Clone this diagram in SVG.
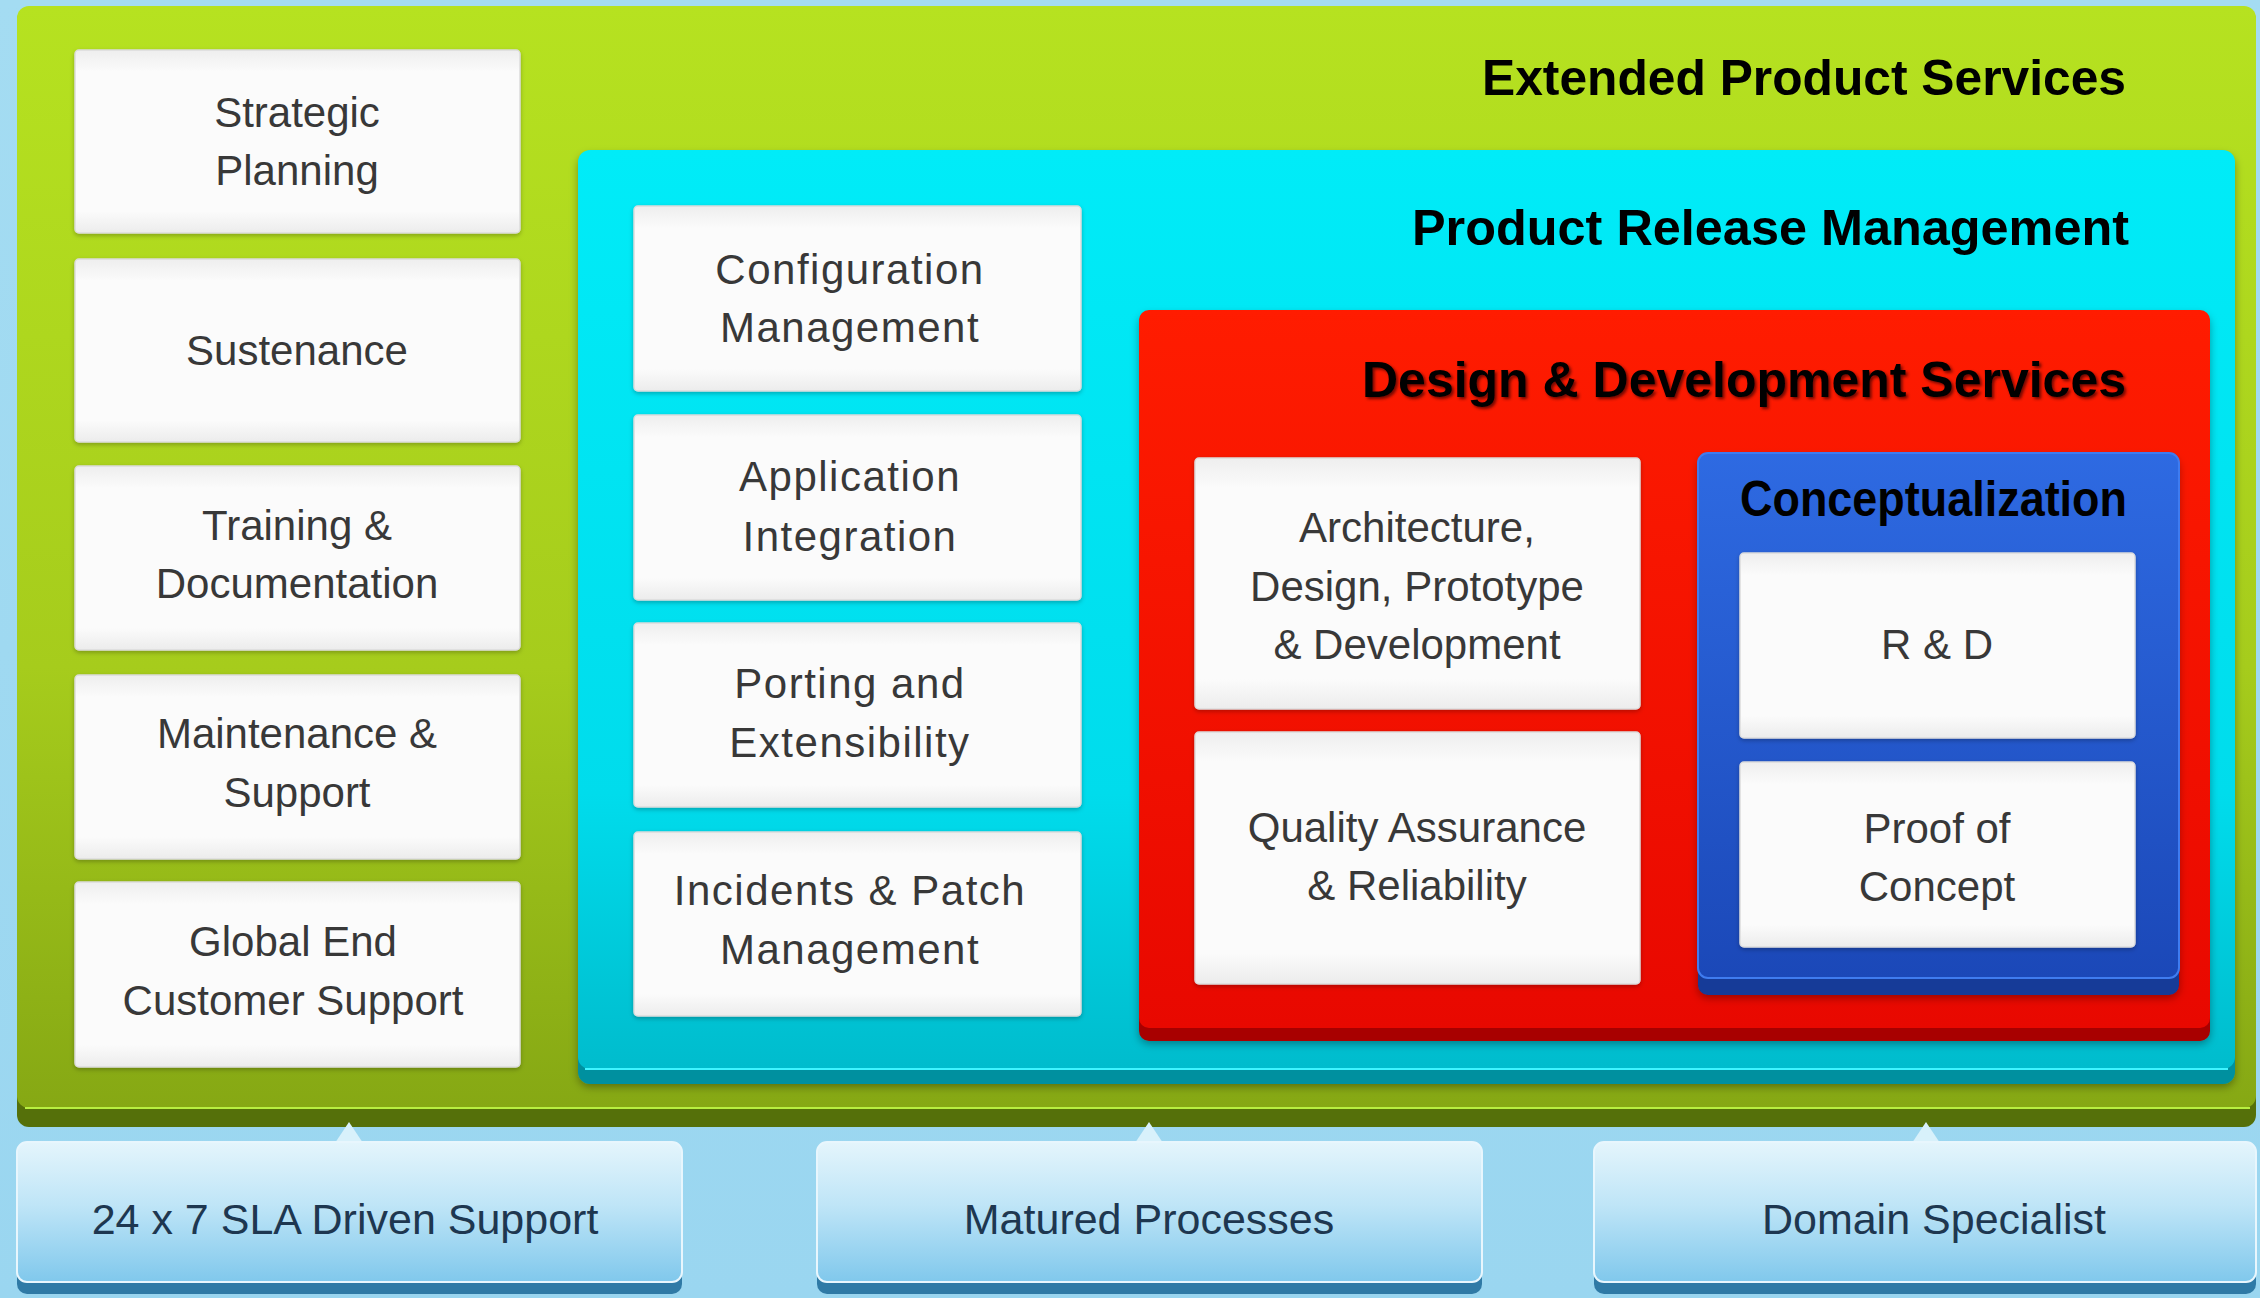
<svg xmlns="http://www.w3.org/2000/svg" width="2260" height="1298" viewBox="0 0 2260 1298">
<defs>
<linearGradient id="gGreen" x1="0" y1="0" x2="0" y2="1"><stop offset="0" stop-color="#b6e220"/><stop offset="0.6" stop-color="#a6cc1c"/><stop offset="1" stop-color="#86a814"/></linearGradient>
<linearGradient id="gCyan" x1="0" y1="0" x2="0" y2="1"><stop offset="0" stop-color="#00ecf8"/><stop offset="0.7" stop-color="#00dcec"/><stop offset="1" stop-color="#00bccd"/></linearGradient>
<linearGradient id="gRed" x1="0" y1="0" x2="0" y2="1"><stop offset="0" stop-color="#ff1c00"/><stop offset="1" stop-color="#e80800"/></linearGradient>
<linearGradient id="gBlue" x1="0" y1="0" x2="0" y2="1"><stop offset="0" stop-color="#2e6ae2"/><stop offset="1" stop-color="#1b48b8"/></linearGradient>
<linearGradient id="gWhite" x1="0" y1="0" x2="0" y2="1"><stop offset="0" stop-color="#eeeeee"/><stop offset="0.12" stop-color="#fbfbfb"/><stop offset="0.88" stop-color="#fbfbfb"/><stop offset="1" stop-color="#ececec"/></linearGradient>
<linearGradient id="gBottom" x1="0" y1="0" x2="0" y2="1"><stop offset="0" stop-color="#e4f5fc"/><stop offset="0.45" stop-color="#bfe5f7"/><stop offset="1" stop-color="#80c8ec"/></linearGradient>
<linearGradient id="gBg" x1="0" y1="0" x2="0" y2="1"><stop offset="0" stop-color="#a4dcf2"/><stop offset="1" stop-color="#9ad6f0"/></linearGradient>
<filter id="sh" x="-5%" y="-5%" width="110%" height="115%"><feDropShadow dx="0" dy="3" stdDeviation="4" flood-color="#000" flood-opacity="0.35"/></filter>
<filter id="shs" x="-5%" y="-5%" width="110%" height="115%"><feDropShadow dx="0" dy="2" stdDeviation="2" flood-color="#000" flood-opacity="0.25"/></filter>
<filter id="tsh" x="-5%" y="-20%" width="110%" height="140%"><feDropShadow dx="2" dy="2" stdDeviation="1.5" flood-color="#300" flood-opacity="0.7"/></filter>
</defs>
<style>
.box{fill:url(#gWhite);stroke:#dcdcdc;stroke-width:1.5;filter:url(#shs)}
.t{font-family:"Liberation Sans",Arial,sans-serif;font-size:42px;fill:#383838;text-anchor:middle}
.tw{letter-spacing:1.5px}
.title{font-family:"Liberation Sans",Arial,sans-serif;font-size:50px;font-weight:bold;fill:#000}
.bt{font-family:"Liberation Sans",Arial,sans-serif;font-size:43px;fill:#1e3750;text-anchor:middle}
.bbox{fill:url(#gBottom);stroke:#e8f6fd;stroke-width:2}
</style>
<rect x="0" y="0" width="2260" height="1298" fill="url(#gBg)"/>

<g id="extended-product-services">
<rect x="17" y="8" width="2239" height="1119" rx="12" fill="#55700a"/>
<rect x="17" y="6" width="2239" height="1102" rx="12" fill="url(#gGreen)"/>
<line x1="25" y1="1108" x2="2250" y2="1108" stroke="#b8f040" stroke-width="2"/>
<text class="title" x="1482" y="95" textLength="644" lengthAdjust="spacingAndGlyphs">Extended Product Services</text>
</g>

<g id="strategic-planning"><rect class="box" x="75" y="50" width="445" height="183" rx="4"/><text class="t" x="297" y="127">Strategic</text><text class="t" x="297" y="185">Planning</text></g>
<g id="sustenance"><rect class="box" x="75" y="259" width="445" height="183" rx="4"/><text class="t" x="297" y="365">Sustenance</text></g>
<g id="training-documentation"><rect class="box" x="75" y="466" width="445" height="184" rx="4"/><text class="t" x="297" y="540">Training &amp;</text><text class="t" x="297" y="598">Documentation</text></g>
<g id="maintenance-support"><rect class="box" x="75" y="675" width="445" height="184" rx="4"/><text class="t" x="297" y="748">Maintenance &amp;</text><text class="t" x="297" y="807">Support</text></g>
<g id="global-end-customer-support"><rect class="box" x="75" y="882" width="445" height="185" rx="4"/><text class="t" x="293" y="956">Global End</text><text class="t" x="293" y="1015">Customer Support</text></g>

<g id="product-release-management">
<rect x="578" y="152" width="1657" height="932" rx="12" fill="#06909f" filter="url(#sh)"/>
<rect x="578" y="150" width="1657" height="919" rx="12" fill="url(#gCyan)"/>
<line x1="585" y1="1069" x2="2228" y2="1069" stroke="#40f4ff" stroke-width="2"/>
<text class="title" x="1412" y="245" textLength="717" lengthAdjust="spacingAndGlyphs">Product Release Management</text>
</g>

<g id="configuration-management"><rect class="box" x="634" y="206" width="447" height="185" rx="4"/><text class="t tw" x="850" y="284">Configuration</text><text class="t tw" x="850" y="342">Management</text></g>
<g id="application-integration"><rect class="box" x="634" y="415" width="447" height="185" rx="4"/><text class="t tw" x="850" y="491">Application</text><text class="t tw" x="850" y="551">Integration</text></g>
<g id="porting-extensibility"><rect class="box" x="634" y="623" width="447" height="184" rx="4"/><text class="t tw" x="850" y="698">Porting and</text><text class="t tw" x="850" y="757">Extensibility</text></g>
<g id="incidents-patch-management"><rect class="box" x="634" y="832" width="447" height="184" rx="4"/><text class="t tw" x="850" y="905">Incidents &amp; Patch</text><text class="t tw" x="850" y="964">Management</text></g>

<g id="design-development-services">
<rect x="1139" y="312" width="1071" height="729" rx="10" fill="#a80000" filter="url(#sh)"/>
<rect x="1139" y="310" width="1071" height="718" rx="10" fill="url(#gRed)"/>
<text class="title" x="1362" y="397" textLength="764" lengthAdjust="spacingAndGlyphs" filter="url(#tsh)">Design &amp; Development Services</text>
</g>

<g id="architecture-design-prototype-development"><rect class="box" x="1195" y="458" width="445" height="251" rx="4"/><text class="t" x="1417" y="542">Architecture,</text><text class="t" x="1417" y="601">Design, Prototype</text><text class="t" x="1417" y="659">&amp; Development</text></g>
<g id="quality-assurance-reliability"><rect class="box" x="1195" y="732" width="445" height="252" rx="4"/><text class="t" x="1417" y="842">Quality Assurance</text><text class="t" x="1417" y="900">&amp; Reliability</text></g>

<g id="conceptualization">
<rect x="1698" y="455" width="481" height="540" rx="10" fill="#123a98" filter="url(#sh)"/>
<rect x="1698" y="453" width="481" height="525" rx="10" fill="url(#gBlue)" stroke="#3f7cf0" stroke-width="2"/>
<text class="title" x="1740" y="516" textLength="387" lengthAdjust="spacingAndGlyphs">Conceptualization</text>
</g>

<g id="r-and-d"><rect class="box" x="1740" y="553" width="395" height="185" rx="4"/><text class="t" x="1937" y="659">R &amp; D</text></g>
<g id="proof-of-concept"><rect class="box" x="1740" y="762" width="395" height="185" rx="4"/><text class="t" x="1937" y="843">Proof of</text><text class="t" x="1937" y="901">Concept</text></g>

<g id="connectors">
<polygon points="333,1146 349,1122 365,1146" fill="#d8f1fb"/>
<polygon points="1133,1146 1149,1122 1165,1146" fill="#d8f1fb"/>
<polygon points="1910,1146 1926,1122 1942,1146" fill="#d8f1fb"/>
</g>

<g id="sla-driven-support"><rect x="17" y="1144" width="665" height="150" rx="10" fill="#2f7aa6"/><rect class="bbox" x="17" y="1142" width="665" height="140" rx="10"/><text class="bt" x="345" y="1234">24 x 7 SLA Driven Support</text></g>
<g id="matured-processes"><rect x="817" y="1144" width="665" height="150" rx="10" fill="#2f7aa6"/><rect class="bbox" x="817" y="1142" width="665" height="140" rx="10"/><text class="bt" x="1149" y="1234">Matured Processes</text></g>
<g id="domain-specialist"><rect x="1594" y="1144" width="662" height="150" rx="10" fill="#2f7aa6"/><rect class="bbox" x="1594" y="1142" width="662" height="140" rx="10"/><text class="bt" x="1934" y="1234">Domain Specialist</text></g>
</svg>
